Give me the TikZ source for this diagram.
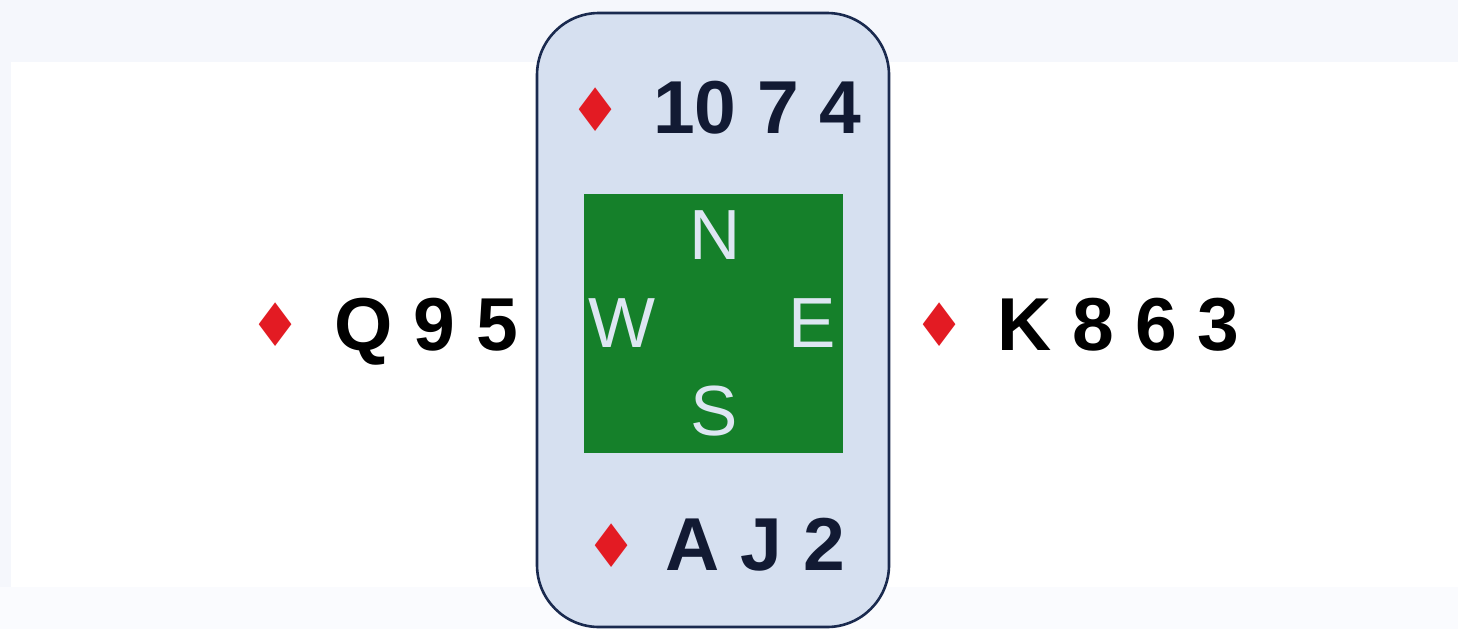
\documentclass[tikz,border=0pt]{standalone}
\usepackage{fontspec}
\usepackage{graphicx}
\setmainfont{Liberation Sans}
\newfontfamily\symfont{DejaVu Sans}
\definecolor{bgtop}{HTML}{F5F7FC}
\definecolor{bgbot}{HTML}{FAFBFE}
\definecolor{boxfill}{HTML}{D6E0F0}
\definecolor{boxline}{HTML}{1A2A4F}
\definecolor{felt}{HTML}{15802A}
\definecolor{compass}{HTML}{DDE6F2}
\definecolor{suitred}{HTML}{E31B23}
\definecolor{navytext}{HTML}{121A33}
\tikzset{
  card/.style={font=\bfseries\fontsize{75}{75}\selectfont, inner sep=0pt, anchor=base},
  suit/.style={font=\symfont\fontsize{60}{60}\selectfont, text=suitred, inner sep=0pt, anchor=center},
  dir/.style={font=\fontsize{71}{71}\selectfont, text=compass, inner sep=0pt, anchor=base},
}
\begin{document}
\begin{tikzpicture}[x=1pt,y=-1pt]
\useasboundingbox (0,0) rectangle (1458,629);
\fill[bgtop] (0,0) rectangle (1458,629);
\fill[bgbot] (0,587) rectangle (1458,629);
\fill[white] (11,62) rectangle (1458,587);
\node[draw=boxline, line width=2.6pt, fill=boxfill, rounded corners=62pt,
      minimum width=352pt, minimum height=614pt, inner sep=0pt] (board) at (713,320) {};
\node[fill=felt, minimum width=259pt, minimum height=259pt, inner sep=0pt] (table) at (713.5,323.5) {};
\node[dir] (N) at (715,259) {N};
\node[dir] (W) at (621.5,347) {W};
\node[dir] (E) at (812,347) {E};
\node[dir] (S) at (714,435) {S};
% North
\node[suit] (nsuit) at (596,110) {\scalebox{0.97}[1]{♦}};
\node[card, text=navytext] (nhand) at (757.5,133) {10 7 4};
% West
\node[suit] (wsuit) at (276,325) {\scalebox{0.97}[1]{♦}};
\node[card, text=black] (whand) at (426.5,350) {Q 9 5};
% East
\node[suit] (esuit) at (940,325) {\scalebox{0.97}[1]{♦}};
\node[card, text=black] (ehand) at (1118.5,350) {K 8 6 3};
% South
\node[suit] (ssuit) at (612,546) {\scalebox{0.97}[1]{♦}};
\node[card, text=navytext] (shand) at (755.5,570) {A J 2};
\end{tikzpicture}
\end{document}
